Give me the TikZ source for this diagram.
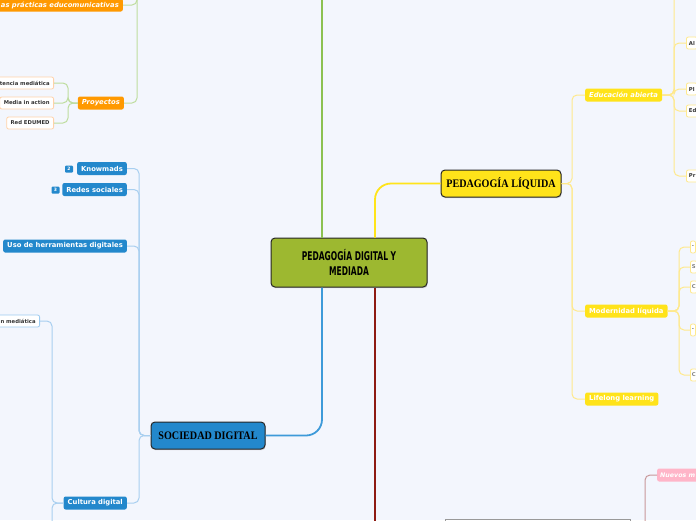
\documentclass[tikz,border=0pt]{standalone}
\usepackage{fontspec}
\setmainfont{DejaVu Sans}
\newfontfamily\centralfont{DejaVu Sans}[FakeStretch=0.63]
\newfontfamily\serifnodefont{Liberation Serif}[FakeStretch=0.88]
\usetikzlibrary{shadows}
\definecolor{bgc}{HTML}{F3F6FD}
\definecolor{glinec}{HTML}{8CC152}
\definecolor{blinec}{HTML}{3D9AD9}
\definecolor{rlinec}{HTML}{8E1A12}
\definecolor{ylinec}{HTML}{FFE41A}
\definecolor{cfill}{HTML}{9DB830}
\definecolor{bfill}{HTML}{2388CC}
\definecolor{yfill}{HTML}{FFE31A}
\definecolor{ofill}{HTML}{FF9900}
\definecolor{pfill}{HTML}{FFB5C8}
\definecolor{bconnc}{HTML}{A8CFF0}
\definecolor{gconnc}{HTML}{BEDD9E}
\definecolor{yconnc}{HTML}{FFE98C}
\definecolor{pconnc}{HTML}{C8989A}
\definecolor{obord}{HTML}{FFD2A8}
\definecolor{ybord}{HTML}{FFE98C}
\definecolor{bbord}{HTML}{9CCBF0}
\newcommand\mysubfont{\fontsize{6.8}{8}\selectfont\bfseries}
\newcommand\myleaffont{\fontsize{5.3}{6}\selectfont\bfseries}
\begin{document}
\begin{tikzpicture}[x=1pt,y=-1pt,
  mainnode/.style={draw=black!85, line width=1pt, rounded corners=4pt,
    drop shadow={shadow xshift=0.6pt, shadow yshift=-1.2pt, opacity=0.35}, inner sep=0pt, text=black},
  subnode/.style={rounded corners=2pt, inner xsep=4pt, inner ysep=0pt, minimum height=13pt, text=white, font=\mysubfont},
  leafnode/.style={fill=white, rounded corners=2pt, inner xsep=4pt, inner ysep=0pt, minimum height=12pt, line width=0.8pt, text=black!80, font=\myleaffont},
  edgeleaf/.style={leafnode, draw=ybord, anchor=west, inner xsep=2.5pt, minimum width=0pt},
  badge/.style={fill=bfill, rounded corners=1pt, inner sep=0pt, minimum width=8pt, minimum height=7pt, text=white, font=\fontsize{4.5}{5}\selectfont\bfseries},
  mainline/.style={line width=2.2pt},
  conn/.style={line width=1pt, rounded corners=5pt}
]
\fill[bgc] (0,0) rectangle (696,520);
\useasboundingbox (0,0) rectangle (696,520);

% coordinates
\coordinate (gtop) at (322,-5);
\coordinate (bx) at (322,0);
\coordinate (redbot) at (375,530);
\coordinate (yx) at (375,0);
\coordinate (lbus) at (139,0);
\coordinate (cbus) at (52,0);
\coordinate (cbot) at (52,530);
\coordinate (gbus) at (137,-5);
\coordinate (pbus) at (68,0);
\coordinate (ybus) at (572,0);
\coordinate (ebus) at (674,0);
\coordinate (etop) at (674,-5);
\coordinate (mbus) at (679,0);
\coordinate (pinkbot) at (645,530);

% main nodes
\node[mainnode, fill=cfill, minimum width=156pt, minimum height=49pt, align=center,
  font=\centralfont\bfseries\fontsize{12}{15}\selectfont] (center) at (349,262.5) {PEDAGOGÍA DIGITAL Y\\MEDIADA};
\node[mainnode, fill=bfill, minimum width=114pt, minimum height=27pt,
  font=\serifnodefont\bfseries\fontsize{11.5}{13}\selectfont] (soc) at (208,435.5) {SOCIEDAD DIGITAL};
\node[mainnode, fill=yfill, minimum width=120pt, minimum height=27pt,
  font=\serifnodefont\bfseries\fontsize{11.5}{13}\selectfont] (liq) at (501,183.5) {PEDAGOGÍA LÍQUIDA};
\node[draw=gray!80, line width=1pt, minimum width=185pt, minimum height=20pt, anchor=north west] (redtopic) at (445,519) {};

% main connectors
\draw[mainline, glinec] (center.north -| gtop) -- (gtop);
\draw[mainline, rlinec] (center.south -| redbot) -- (redbot);
\draw[mainline, blinec, line width=1.8pt, rounded corners=16pt] (center.south -| bx) |- (soc.east);
\draw[mainline, ylinec, line width=1.8pt, rounded corners=16pt] (center.north -| yx) |- (liq.west);

% left blue branch
\node[subnode, fill=bfill, anchor=east] (knowmads) at (127,168.5) {Knowmads};
\node[subnode, fill=bfill, anchor=east] (redes) at (127,189.5) {Redes sociales};
\node[subnode, fill=bfill, anchor=east] (uso) at (127,246) {Uso de herramientas digitales};
\node[subnode, fill=bfill, anchor=east] (cultura) at (127,503) {Cultura digital};
\node[badge] (b1) at (69,169) {2};
\node[badge] (b2) at (55.5,190) {3};
\foreach \c in {knowmads,redes,uso,cultura}
  \draw[conn, bconnc] (soc.west) -- (soc.west -| lbus) |- (\c.east);
\node[leafnode, draw=bbord, anchor=east] (mediatica) at (40,321) {n mediática};
\draw[conn, bconnc] (cultura.west) -- (cultura.west -| cbus) |- (mediatica.east);
\draw[conn, bconnc] (cultura.west) -| (cbot);

% top-left green branch
\node[subnode, fill=ofill, anchor=east, font=\mysubfont\itshape] (practicas) at (123,5) {as prácticas educomunicativas};
\node[subnode, fill=ofill, anchor=east, font=\mysubfont\itshape] (proyectos) at (124,103) {Proyectos};
\draw[conn, gconnc] (practicas.east) -| (gbus);
\draw[conn, gconnc] (proyectos.east) -| (gbus);
\node[leafnode, draw=obord, anchor=east] (competencia) at (54,83) {tencia mediática};
\node[leafnode, draw=obord, anchor=east] (media) at (54,103) {Media in action};
\node[leafnode, draw=obord, anchor=east] (red) at (54,123) {Red EDUMED};
\foreach \c in {competencia,media,red}
  \draw[conn, gconnc] (proyectos.west) -- (proyectos.west -| pbus) |- (\c.east);

% right yellow branch
\node[subnode, fill=yfill, anchor=west, font=\mysubfont\itshape] (educ) at (585,95) {Educación abierta};
\node[subnode, fill=yfill, anchor=west] (modern) at (585,311) {Modernidad líquida};
\node[subnode, fill=yfill, anchor=west] (lifelong) at (585,399) {Lifelong learning};
\foreach \c in {educ,modern,lifelong}
  \draw[conn, yconnc] (liq.east) -- (liq.east -| ybus) |- (\c.west);
\node[edgeleaf] (al) at (686,43) {Al};
\node[edgeleaf] (pl) at (686,89) {Pl};
\node[edgeleaf] (ed) at (686,111) {Ed};
\node[edgeleaf] (pr) at (686,176) {Pr};
\foreach \c in {al,pl,ed,pr}
  \draw[conn, yconnc] (educ.east) -- (educ.east -| ebus) |- (\c.west);
\draw[conn, yconnc] (educ.east) -| (etop);
\node[edgeleaf, text=gray, inner xsep=1.5pt] (m1) at (690,247) {-};
\node[edgeleaf, text=gray, inner xsep=1.5pt] (m2) at (690,267) {S};
\node[edgeleaf, text=gray, inner xsep=1.5pt] (m3) at (690,287) {C};
\node[edgeleaf, text=gray, inner xsep=1.5pt] (m4) at (690,330) {-};
\node[edgeleaf, text=gray, inner xsep=1.5pt] (m5) at (690,375) {C};
\foreach \c in {m1,m2,m3,m4,m5}
  \draw[conn, yconnc] (modern.east) -- (modern.east -| mbus) |- (\c.west);

% bottom right pink
\node[subnode, fill=pfill, anchor=west, font=\fontsize{6.3}{8}\selectfont\bfseries\itshape, inner xsep=3pt, text width=52pt, align=left] (nuevos) at (657,475) {Nuevos m};
\draw[conn, pconnc] (nuevos.west) -| (pinkbot);
\end{tikzpicture}
\end{document}
